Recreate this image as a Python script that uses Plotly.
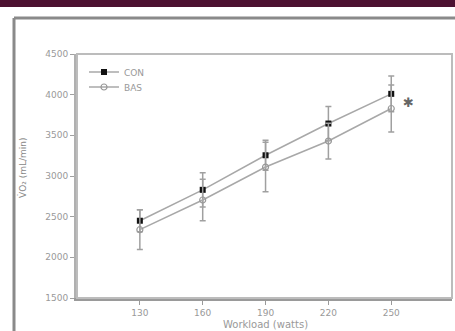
import plotly.graph_objects as go

workload = [130, 160, 190, 220, 250]
con_vals = [2450, 2830, 3255, 3645, 4010]
con_err = [135, 210, 185, 210, 220]
bas_vals = [2340, 2705, 3110, 3430, 3830]
bas_err = [245, 255, 305, 220, 290]
y_ticks = [1500, 2000, 2500, 3000, 3500, 4000, 4500]

L, R, T, B = 77, 3, 54, 33
W, H = 455, 331
pw, ph = W - L - R, H - T - B

def px(x):
    return (x - L) / pw

def py(y):
    return (H - B - y) / ph

fig = go.Figure()
fig.add_trace(go.Scatter(
    x=workload, y=con_vals, name="CON", mode="lines+markers", legend="legend",
    line=dict(color="#a8a8a8", width=1.5),
    marker=dict(symbol="square", size=6, color="#111111", line=dict(color="#111111", width=0)),
    error_y=dict(type="data", array=con_err, color="#a0a0a0", thickness=1.5, width=3),
))
fig.add_trace(go.Scatter(
    x=workload, y=bas_vals, name="BAS", mode="lines+markers", legend="legend2",
    line=dict(color="#a8a8a8", width=1.5),
    marker=dict(symbol="circle-open", size=6, color="#999999", line=dict(width=1.2)),
    error_y=dict(type="data", array=bas_err, color="#a0a0a0", thickness=1.5, width=3),
))

fig.add_annotation(x=workload[-1], y=con_vals[-1], xref="x", yref="y", text="✱",
                   showarrow=False, xshift=17, yshift=-9,
                   font=dict(size=13, color="#666666"))

fig.add_annotation(x=px(22), y=py(168), xref="paper", yref="paper", text="V̇O₂ (mL/min)",
                   textangle=-90, showarrow=False, xanchor="center", yanchor="middle",
                   font=dict(size=9, color="#888888"))
fig.add_annotation(x=px(265), y=py(324), xref="paper", yref="paper", text="Workload (watts)",
                   showarrow=False, xanchor="center", yanchor="middle",
                   font=dict(size=10, color="#999999"))

shapes = [
    dict(type="rect", xref="paper", yref="paper", x0=px(0), x1=px(W), y0=py(7), y1=py(0),
         fillcolor="#4d1131", line=dict(width=0), layer="below"),
    dict(type="line", xref="paper", yref="paper", x0=px(14), x1=px(W), y0=py(18), y1=py(18),
         line=dict(color="#8a8a8a", width=3)),
    dict(type="line", xref="paper", yref="paper", x0=px(14), x1=px(14), y0=py(18), y1=py(H),
         line=dict(color="#8a8a8a", width=3)),
    dict(type="rect", xref="paper", yref="paper", x0=0, x1=1, y0=0, y1=1,
         line=dict(color="#bcbcbc", width=2), fillcolor="rgba(0,0,0,0)"),
]

leg_common = dict(xanchor="left", yanchor="middle",
                  font=dict(family="DejaVu Sans", size=9, color="#999999"),
                  bgcolor="rgba(0,0,0,0)", itemwidth=30, tracegroupgap=0)

fig.update_layout(
    width=W, height=H,
    margin=dict(l=L, r=R, t=T, b=B),
    paper_bgcolor="white", plot_bgcolor="white",
    shapes=shapes,
    showlegend=True,
    legend=dict(x=px(84), y=py(72), **leg_common),
    legend2=dict(x=px(84), y=py(87), **leg_common),
    font=dict(family="DejaVu Sans", size=9, color="#999999"),
)
fig.update_xaxes(range=[100, 279], tickvals=workload, ticktext=[str(w) for w in workload],
                 showgrid=False, zeroline=False, showline=True, linecolor="#9a9a9a", linewidth=2.5,
                 ticks="outside", ticklen=4, tickcolor="#9a9a9a",
                 tickfont=dict(size=9, color="#999999"))
fig.update_yaxes(range=[1500, 4500], tickvals=y_ticks,
                 showgrid=False, zeroline=False, showline=True, linecolor="#b0b0b0", linewidth=3,
                 ticks="outside", ticklen=4, tickcolor="#a0a0a0",
                 tickfont=dict(size=9, color="#999999"))

fig.write_html("out.html", config={"displayModeBar": False},
               post_script="document.body.style.margin='0';document.body.style.overflow='hidden';")
